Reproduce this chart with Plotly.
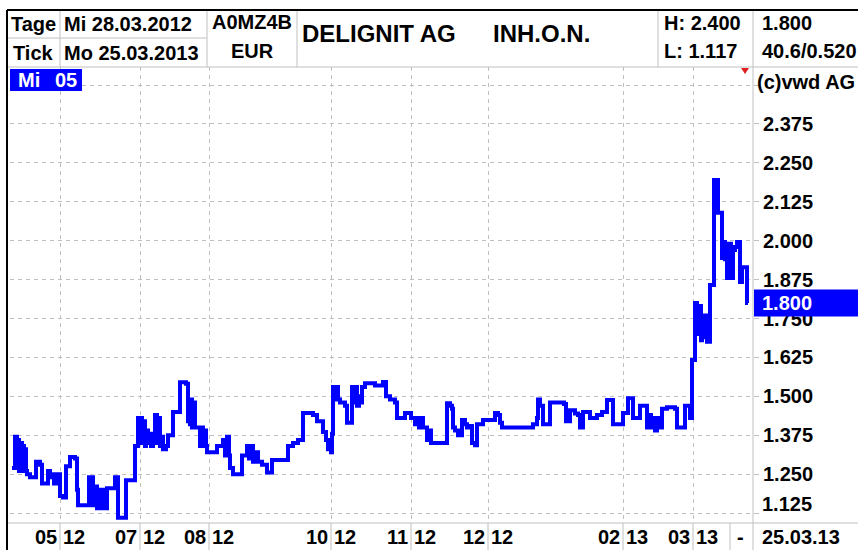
import plotly.graph_objects as go

# ---------------- data (tick chart: x = tick index) ----------------
tick_index = [2, 5, 7, 8, 9, 10, 12, 13, 14, 15, 16, 17, 20, 26, 30, 32, 38, 40, 42, 44, 46, 50, 53, 56, 60, 65,
              67, 68, 79, 83, 85, 87, 89, 91, 93, 95, 97, 105, 108, 116, 125, 128, 132, 133, 135, 136, 138, 139,
              141, 143, 145, 147, 148, 150, 152, 153, 156, 158, 163, 170, 176, 178, 179, 180, 181, 182, 183, 185,
              190, 192, 193, 195, 196, 197, 207, 213, 215, 217, 219, 220, 223, 232, 237, 239, 241, 243, 245, 248,
              252, 257, 262, 278, 283, 288, 293, 303, 307, 313, 316, 318, 320, 321, 322, 323, 325, 326, 328, 330,
              335, 337, 342, 344, 345, 347, 349, 350, 352, 355, 365, 373, 376, 380, 385, 387, 395, 401, 405, 407,
              409, 411, 413, 417, 419, 421, 437, 440, 442, 443, 445, 448, 452, 455, 457, 460, 462, 465, 467, 473,
              485, 488, 490, 492, 523, 527, 528, 530, 533, 540, 554, 556, 560, 565, 568, 570, 573, 580, 587, 592,
              597, 603, 613, 618, 623, 630, 637, 639, 641, 643, 645, 647, 649, 652, 657, 665, 667, 675, 680, 682,
              685, 687, 689, 691, 692, 694, 695, 697, 700, 704, 708, 712, 713, 715, 716, 717, 719, 721, 723, 725,
              727, 730, 732, 737, 738]
price = [1.27, 1.37, 1.27, 1.36, 1.26, 1.35, 1.27, 1.34, 1.26, 1.33, 1.26, 1.25, 1.24, 1.29, 1.28, 1.22, 1.26,
         1.24, 1.25, 1.22, 1.25, 1.18, 1.175, 1.275, 1.305, 1.30, 1.20, 1.15, 1.24, 1.15, 1.21, 1.14, 1.20, 1.14,
         1.20, 1.14, 1.205, 1.24, 1.11, 1.23, 1.34, 1.43, 1.35, 1.42, 1.34, 1.39, 1.35, 1.38, 1.34, 1.36, 1.44,
         1.35, 1.43, 1.34, 1.37, 1.33, 1.34, 1.375, 1.45, 1.545, 1.54, 1.42, 1.49, 1.41, 1.49, 1.40, 1.48, 1.40,
         1.34, 1.40, 1.34, 1.39, 1.34, 1.32, 1.34, 1.36, 1.31, 1.37, 1.31, 1.27, 1.25, 1.31, 1.34, 1.30, 1.34,
         1.29, 1.32, 1.29, 1.28, 1.255, 1.295, 1.34, 1.35, 1.36, 1.446, 1.44, 1.42, 1.385, 1.36, 1.33, 1.36,
         1.32, 1.38, 1.53, 1.49, 1.53, 1.49, 1.48, 1.47, 1.415, 1.53, 1.48, 1.53, 1.47, 1.50, 1.48, 1.53, 1.542,
         1.535, 1.546, 1.50, 1.49, 1.48, 1.43, 1.446, 1.43, 1.41, 1.43, 1.40, 1.43, 1.40, 1.36, 1.39, 1.35,
         1.478, 1.47, 1.46, 1.40, 1.39, 1.375, 1.424, 1.41, 1.40, 1.405, 1.35, 1.343, 1.41, 1.424, 1.446, 1.44,
         1.415, 1.40, 1.41, 1.43, 1.49, 1.47, 1.41, 1.48, 1.475, 1.42, 1.455, 1.445, 1.44, 1.40, 1.45, 1.43,
         1.44, 1.45, 1.488, 1.41, 1.446, 1.494, 1.43, 1.47, 1.40, 1.44, 1.40, 1.43, 1.39, 1.43, 1.40, 1.46,
         1.465, 1.46, 1.40, 1.47, 1.43, 1.617, 1.80, 1.70, 1.79, 1.68, 1.76, 1.69, 1.76, 1.675, 1.858, 2.195,
         2.09, 1.944, 1.996, 1.94, 1.99, 1.88, 1.99, 1.88, 1.97, 1.98, 1.996, 1.867, 1.915, 1.80, 1.80]

month_tick_index = [50, 130, 199, 321, 401, 478, 613, 683]
month_labels = ["05", "07", "08", "10", "11", "12", "02", "03"]
year_labels = ["12", "12", "12", "12", "12", "12", "13", "13"]

y_tick_values = [1.125, 1.25, 1.375, 1.5, 1.625, 1.75, 1.875, 2.0, 2.125, 2.25, 2.375, 2.5]
y_tick_labels = ["1.125", "1.250", "1.375", "1.500", "1.625", "1.750", "1.875", "2.000", "2.125",
                 "2.250", "2.375", ""]

header_name = "DELIGNIT AG"
header_class = "INH.O.N."
header_isin = "A0MZ4B"
header_currency = "EUR"
date_from = "Mi 28.03.2012"
date_to = "Mo 25.03.2013"
high_value = "2.400"
low_value = "1.117"
last_value = "1.800"
volume_info = "40.6/0.520"
last_date = "25.03.13"

# ---------------- layout helpers ----------------
W, H = 858, 550
PL, PR, PT, PB = 10, 753, 67, 523
Y_RANGE = [1.093, 2.558]
FONT = "Liberation Sans, Arial, sans-serif"
GRAY = "#c0c0c0"
BLUE = "#0000ff"


def X(px):
    return (px - PL) / (PR - PL)


def Y(py):
    return (PB - py) / (PB - PT)


fig = go.Figure()
fig.add_trace(go.Scatter(x=tick_index, y=price, mode="lines", line_shape="hv",
                         line=dict(color=BLUE, width=4), hoverinfo="skip", showlegend=False))

shapes = []
ann = []


def line(x0, y0, x1, y1, color=GRAY, width=1, xref="paper", yref="paper"):
    shapes.append(dict(type="line", xref=xref, yref=yref, x0=x0, y0=y0, x1=x1, y1=y1,
                       line=dict(color=color, width=width), layer="above"))


def text(x, y, s, size=20, color="black", xanchor="left", yanchor="middle", bold=True,
         xref="paper", yref="paper", xshift=0, yshift=0):
    ann.append(dict(x=x, y=y, xref=xref, yref=yref, text=("<b>%s</b>" % s) if bold else s,
                    showarrow=False, xanchor=xanchor, yanchor=yanchor, xshift=xshift, yshift=yshift,
                    font=dict(family=FONT, size=size, color=color)))


# header grid
line(X(7), Y(38), X(207), Y(38))
line(X(7), Y(67), X(858), Y(67))
for px in (60, 207, 297, 658):
    line(X(px), Y(10), X(px), Y(67))
line(X(753), Y(10), X(753), Y(550))          # right axis line
line(X(7), Y(523), X(858), Y(523))           # bottom axis line
line(X(730), Y(523), X(730), Y(550))
for t in month_tick_index:
    shapes.append(dict(type="line", xref="x", yref="paper", x0=t, x1=t, y0=Y(523), y1=Y(550),
                       line=dict(color=GRAY, width=1), layer="above"))
# black outer border
line(X(7), Y(10), X(858), Y(10), color="black", width=2)
line(X(7), Y(10), X(7), Y(550), color="black", width=2)

# blue "Mi 05" box
shapes.append(dict(type="rect", xref="paper", yref="paper", x0=X(10), x1=X(82), y0=Y(91), y1=Y(69),
                   fillcolor=BLUE, line=dict(width=0), layer="above"))
# last price box on right axis
last = price[-1]
dy = 13.5 * (Y_RANGE[1] - Y_RANGE[0]) / (PB - PT)
shapes.append(dict(type="rect", xref="paper", yref="y", x0=X(754), x1=X(858), y0=last - dy, y1=last + dy,
                   fillcolor=BLUE, line=dict(width=0), layer="above"))
# red marker triangle
shapes.append(dict(type="path", xref="paper", yref="paper",
                   path="M %f,%f L %f,%f L %f,%f Z" % (X(741), Y(68), X(749), Y(68), X(745), Y(74)),
                   fillcolor="#e02020", line=dict(width=0), layer="above"))

# header texts
text(X(33.5), Y(24), "Tage", xanchor="center")
text(X(33.5), Y(53), "Tick", xanchor="center")
text(X(62), Y(24), date_from)
text(X(62), Y(53), date_to)
text(X(252), Y(22), header_isin, xanchor="center")
text(X(252), Y(51), header_currency, xanchor="center")
text(X(300), Y(33), header_name, size=24)
text(X(491), Y(33), header_class, size=24)
text(X(662), Y(23), "H: " + high_value)
text(X(662), Y(51), "L: " + low_value)
text(X(760), Y(23), last_value)
text(X(760), Y(51), volume_info)
text(X(755), Y(82), "(c)vwd AG")
text(X(16), Y(80), "Mi", color="white")
text(X(53), Y(80), "05", color="white")
text(X(760), last, "%.3f" % last, color="white", yref="y")
text(X(740), Y(537), "-", xanchor="center")
text(X(760), Y(537), last_date)
# lowest price label sits slightly raised above the bottom axis line
text(X(760), y_tick_values[0], y_tick_labels[0], yref="y", yshift=9)
for t, m, yy in zip(month_tick_index, month_labels, year_labels):
    text(t, Y(537), m, xref="x", xanchor="right", xshift=-1)
    text(t, Y(537), yy, xref="x", xanchor="left", xshift=1)

axis_tick_text = [""] + y_tick_labels[1:]

fig.update_layout(
    width=W, height=H,
    margin=dict(l=PL, r=W - PR, t=PT, b=H - PB, pad=0),
    paper_bgcolor="white", plot_bgcolor="white",
    shapes=shapes, annotations=ann, showlegend=False,
    xaxis=dict(range=[0, PR - PL], tickvals=month_tick_index, showticklabels=False,
               showgrid=True, gridcolor=GRAY, griddash="4px,4px", gridwidth=1,
               zeroline=False, showline=False, ticks="", fixedrange=True),
    yaxis=dict(range=Y_RANGE, side="right", tickvals=y_tick_values, ticktext=axis_tick_text,
               showgrid=True, gridcolor=GRAY, griddash="4px,4px", gridwidth=1,
               ticks="outside", ticklen=5, tickcolor=GRAY, zeroline=False, showline=False,
               tickfont=dict(family=FONT, size=20, color="black", weight="bold"), fixedrange=True),
)

fig.write_html("out.html", config={"displayModeBar": False},
               post_script="document.body.style.margin='0';")
